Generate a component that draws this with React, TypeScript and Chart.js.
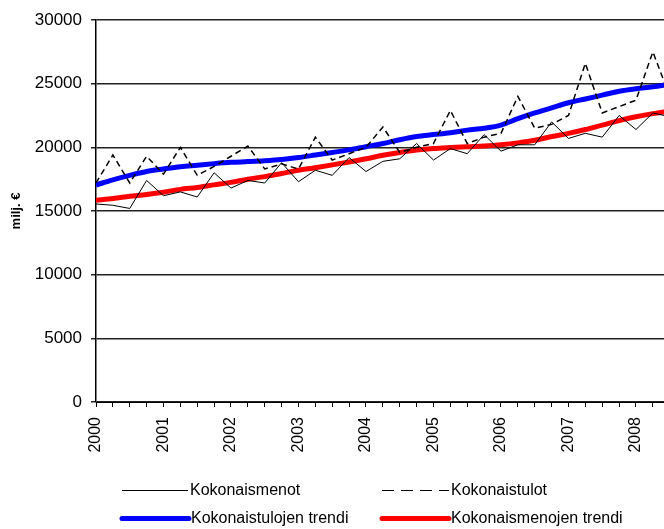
import React, { useEffect, useRef } from "react";
import { Chart, registerables } from "chart.js";

Chart.register(...registerables);

const FONT = '"Liberation Sans", Arial, sans-serif';

// Years shown on the x axis (one label per year, quarterly data)
const yearLabels = ["2000", "2001", "2002", "2003", "2004", "2005", "2006", "2007", "2008"];
const quartersPerYear = 4;

// Quarterly values, milj. € (2000 Q1 ... 2008 Q3)
const kokonaismenot = [
  15550, 15450, 15200, 17400,
  16200, 16500, 16100, 18000,
  16800, 17400, 17200, 18800,
  17300, 18200, 17800, 19200,
  18100, 18900, 19100, 20300,
  19000, 19900, 19500, 21000,
  19700, 20200, 20200, 22000,
  20700, 21100, 20800, 22500,
  21400, 22700, 22400,
];

const kokonaistulot = [
  17200, 19400, 17200, 19300,
  17900, 20000, 17800, 18500,
  19300, 20100, 18300, 18700,
  18300, 20800, 19000, 19500,
  20000, 21600, 19600, 20000,
  20300, 22900, 20300, 20800,
  21100, 24000, 21500, 21800,
  22500, 26600, 22700, 23200,
  23700, 27500, 24000,
];

const tulojenTrendi = [
  17040, 17450, 17800, 18100,
  18300, 18480, 18600, 18720,
  18820, 18880, 18950, 19050,
  19200, 19400, 19600, 19800,
  20050, 20300, 20600, 20850,
  21000, 21150, 21350, 21500,
  21750, 22250, 22700, 23100,
  23500, 23800, 24100, 24400,
  24600, 24750, 24950,
];

const menojenTrendi = [
  15850, 15980, 16150, 16300,
  16480, 16700, 16850, 17050,
  17250, 17500, 17700, 17950,
  18200, 18400, 18620, 18850,
  19100, 19380, 19600, 19780,
  19900, 19980, 20050, 20100,
  20200, 20350, 20550, 20850,
  21100, 21400, 21750, 22100,
  22400, 22650, 22850,
];

const seriesLabels = [
  "Kokonaismenot",
  "Kokonaistulot",
  "Kokonaistulojen trendi",
  "Kokonaismenojen trendi",
];

const yMin = 0;
const yMax = 30000;
const yStep = 5000;
const xVisibleMax = 33.66;

const toPoints = (arr: number[]) => arr.map((v, i) => ({ x: i, y: v }));

const legendPlugin = {
  id: "customLegend",
  afterDraw(chart: any) {
    const ctx = chart.ctx as CanvasRenderingContext2D;
    const items = [
      { ds: 0, x: 122, y: 490, len: 66, dash: [] as number[] },
      { ds: 1, x: 382, y: 490, len: 67, dash: [12, 7] },
      { ds: 2, x: 122, y: 518, len: 67, dash: [] as number[] },
      { ds: 3, x: 382, y: 518, len: 67, dash: [] as number[] },
    ];
    ctx.save();
    items.forEach((it) => {
      const ds = chart.data.datasets[it.ds];
      ctx.beginPath();
      ctx.setLineDash(it.dash);
      ctx.strokeStyle = ds.borderColor;
      ctx.lineWidth = ds.borderWidth > 2 ? 5 : 1;
      ctx.lineCap = ds.borderWidth > 2 ? "round" : "butt";
      ctx.moveTo(it.x, it.y + 0.5);
      ctx.lineTo(it.x + it.len, it.y + 0.5);
      ctx.stroke();
      ctx.setLineDash([]);
      ctx.fillStyle = "#000";
      ctx.font = `16px ${FONT}`;
      ctx.textAlign = "left";
      ctx.textBaseline = "middle";
      ctx.fillText(ds.label, it.x + it.len + 2, it.y + 1);
    });
    ctx.restore();
  },
};

export default function App() {
  const ref = useRef<HTMLCanvasElement | null>(null);

  useEffect(() => {
    if (!ref.current) return;
    const chart = new Chart(ref.current, {
      type: "line",
      data: {
        datasets: [
          {
            label: seriesLabels[0],
            data: toPoints(kokonaismenot),
            borderColor: "#000000",
            borderWidth: 1,
            pointRadius: 0,
            tension: 0,
          },
          {
            label: seriesLabels[1],
            data: toPoints(kokonaistulot),
            borderColor: "#000000",
            borderWidth: 1.5,
            borderDash: [6, 4],
            pointRadius: 0,
            tension: 0,
          },
          {
            label: seriesLabels[2],
            data: toPoints(tulojenTrendi),
            borderColor: "#0000FF",
            borderWidth: 5,
            pointRadius: 0,
            cubicInterpolationMode: "monotone",
          },
          {
            label: seriesLabels[3],
            data: toPoints(menojenTrendi),
            borderColor: "#FF0000",
            borderWidth: 5,
            pointRadius: 0,
            cubicInterpolationMode: "monotone",
          },
        ],
      },
      options: {
        animation: false,
        responsive: false,
        maintainAspectRatio: false,
        events: [],
        layout: { padding: { top: 20, right: 0, bottom: 72, left: 0 } },
        plugins: {
          legend: { display: false },
          tooltip: { enabled: false },
          title: { display: false },
        },
        scales: {
          x: {
            type: "linear",
            min: 0,
            max: xVisibleMax,
            afterFit: (scale: any) => {
              scale.height = 55;
              scale.paddingLeft = 0;
              scale.paddingRight = 0;
            },
            ticks: {
              stepSize: 1,
              includeBounds: false,
              autoSkip: false,
              minRotation: 90,
              maxRotation: 90,
              padding: 10,
              color: "#000",
              font: { family: FONT, size: 16 },
              callback: (value: any) => {
                const v = Number(value);
                if (Number.isInteger(v) && v % quartersPerYear === 0) {
                  return yearLabels[v / quartersPerYear] ?? "";
                }
                return "";
              },
            },
            grid: {
              drawOnChartArea: false,
              drawTicks: true,
              tickLength: 5,
              color: "#000",
              lineWidth: 1,
            },
            border: { display: true, color: "#000", width: 1 },
          },
          y: {
            type: "linear",
            min: yMin,
            max: yMax,
            afterFit: (scale: any) => {
              scale.width = 96;
            },
            ticks: {
              stepSize: yStep,
              padding: 9,
              color: "#000",
              font: { family: FONT, size: 17 },
              callback: (value: any) => String(value),
            },
            grid: {
              drawTicks: true,
              tickLength: 5,
              color: "#222",
              lineWidth: 1.5,
            },
            border: { display: true, color: "#000", width: 1.5 },
            title: {
              display: true,
              text: "milj. €",
              color: "#000",
              font: { family: FONT, size: 13, weight: "bold" },
              padding: { top: 9, bottom: 0 },
            },
          },
        },
      },
      plugins: [legendPlugin],
    } as any);
    return () => chart.destroy();
  }, []);

  return (
    <div
      style={{
        position: "fixed",
        left: 0,
        top: 0,
        width: 664,
        height: 529,
        background: "#fff",
      }}
    >
      <canvas ref={ref} width={664} height={529} style={{ display: "block" }} />
    </div>
  );
}
